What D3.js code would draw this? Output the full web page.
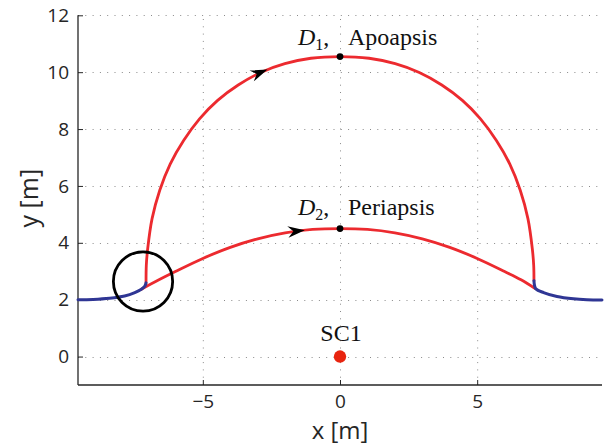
<!DOCTYPE html>
<html>
<head>
<meta charset="utf-8">
<script src="https://cdn.jsdelivr.net/npm/d3@7/dist/d3.min.js"></script>
<style>
  body { margin: 0; background: #fff; }
  svg { display: block; }
</style>
</head>
<body>
<svg id="chart" width="606" height="446"></svg>
<script>
// Axis extents and ticks
const xDomain = [-9.55, 9.55];
const yDomain = [-1, 12];
const xTicks = [-5, 0, 5];
const yTicks = [0, 2, 4, 6, 8, 10, 12];

// Approach / departure legs (blue), [x, y] in metres
const approachLeft = [
  [-9.55, 2.0], [-9.0, 2.01], [-8.4, 2.05], [-7.85, 2.13], [-7.48, 2.25],
  [-7.24, 2.37], [-7.12, 2.47], [-7.07, 2.59]
];
const departRight = [
  [7.07, 2.67], [7.09, 2.5], [7.14, 2.38], [7.42, 2.25], [7.91, 2.11],
  [8.51, 2.03], [9.0, 2.0], [9.55, 1.99]
];

// D1 transfer arc through apoapsis (red)
const arcD1 = [
  [-7.07, 2.59], [-7.06, 3.21], [-7.01, 3.79], [-6.85, 4.85], [-6.57, 5.85],
  [-6.19, 6.77], [-5.70, 7.60], [-5.12, 8.36], [-4.46, 9.01], [-3.71, 9.55],
  [-2.89, 9.99], [-2.01, 10.30], [-1.06, 10.49],
  [0, 10.55],
  [1.06, 10.49], [2.01, 10.30], [2.89, 9.99], [3.71, 9.55], [4.46, 9.01],
  [5.12, 8.36], [5.70, 7.60], [6.19, 6.77], [6.57, 5.85], [6.85, 4.85],
  [7.01, 3.79], [7.06, 3.21], [7.07, 2.67]
];

// D2 transfer arc through periapsis (red)
const arcD2 = [
  [-7.24, 2.37], [-6.6, 2.7], [-6.0, 2.99], [-5.0, 3.45], [-4.0, 3.84],
  [-3.0, 4.14], [-2.0, 4.35], [-1.0, 4.47], [0, 4.5], [1.0, 4.47],
  [2.0, 4.35], [3.0, 4.14], [4.0, 3.84], [5.0, 3.45], [6.0, 2.99],
  [6.6, 2.7], [7.1, 2.4]
];

// Marked points
const apoapsis = [0, 10.55];
const periapsis = [0, 4.5];
const sc1 = [0, 0];
// Arrow tips along each arc
const arrowD1 = [-2.63, 10.05];
const arrowD2 = [-1.28, 4.48];
// Highlighted split point
const splitCenter = [-7.18, 2.64];
const splitRadius = 1.08;

const svg = d3.select("#chart");
const margin = { left: 78, right: 4, top: 15.3, bottom: 61 };
const W = 606, H = 446;

const x = d3.scaleLinear().domain(xDomain).range([margin.left, W - margin.right]);
const y = d3.scaleLinear().domain(yDomain).range([H - margin.bottom, margin.top]);

const RED = "#ec2a2f";
const BLUE = "#2f3694";
const AXIS = "#262626";

// Dotted grid
const grid = svg.append("g").attr("stroke", "#8a8a8a").attr("stroke-width", 1)
  .attr("stroke-dasharray", "1,6.3").attr("fill", "none");
grid.selectAll(".gx").data(xTicks).join("line")
  .attr("x1", d => x(d) + 0.5).attr("x2", d => x(d) + 0.5)
  .attr("y1", y(yDomain[0])).attr("y2", y(yDomain[1]));
grid.selectAll(".gy").data(yTicks).join("line")
  .attr("y1", d => Math.round(y(d)) + 0.5).attr("y2", d => Math.round(y(d)) + 0.5)
  .attr("x1", x(xDomain[0])).attr("x2", x(xDomain[1]));

// Axes (ticks pointing inward)
const xAxis = d3.axisBottom(x).tickValues(xTicks).tickSize(-5).tickPadding(10)
  .tickFormat(d => d < 0 ? "\u2212" + Math.abs(d) : d);
const yAxis = d3.axisLeft(y).tickValues(yTicks).tickSize(-5).tickPadding(9);

const gx = svg.append("g").attr("transform", `translate(0,${y(yDomain[0])})`).call(xAxis);
const gy = svg.append("g").attr("transform", `translate(${x(xDomain[0])},0)`).call(yAxis);
[gx, gy].forEach(g => {
  g.select(".domain").attr("stroke", AXIS).attr("stroke-width", 1.3);
  g.selectAll(".tick line").attr("stroke", AXIS);
  g.selectAll(".tick text").attr("fill", AXIS)
    .style("font-family", "'Open Sans', sans-serif").style("font-size", "19px");
});
gx.select(".domain").attr("d", `M${x(xDomain[0])},0H${x(xDomain[1])}`);
gy.select(".domain").attr("d", `M0,${y(yDomain[0])}V${y(yDomain[1])}`);

// Axis titles
svg.append("text")
  .attr("x", x(0)).attr("y", 439)
  .attr("text-anchor", "middle").attr("fill", AXIS)
  .style("font-family", "'Open Sans', sans-serif").style("font-size", "24px")
  .text("x [m]");
svg.append("text")
  .attr("transform", `translate(38,${(y(yDomain[0]) + y(yDomain[1])) / 2 - 2}) rotate(-90)`)
  .attr("text-anchor", "middle").attr("fill", AXIS)
  .style("font-family", "'Open Sans', sans-serif").style("font-size", "25px")
  .text("y [m]");

// Trajectories
const line = d3.line().x(d => x(d[0])).y(d => y(d[1])).curve(d3.curveCatmullRom.alpha(0.5));
const paths = svg.append("g").attr("fill", "none").attr("stroke-linecap", "round");

const pD1 = paths.append("path").datum(arcD1).attr("d", line)
  .attr("stroke", RED).attr("stroke-width", 2.8);
const pD2 = paths.append("path").datum(arcD2).attr("d", line)
  .attr("stroke", RED).attr("stroke-width", 2.8);
paths.append("path").datum(approachLeft).attr("d", line)
  .attr("stroke", BLUE).attr("stroke-width", 3);
paths.append("path").datum(departRight).attr("d", line)
  .attr("stroke", BLUE).attr("stroke-width", 3);

// Direction arrows, oriented along the path tangent
function arrowOn(pathSel, tip) {
  const node = pathSel.node();
  const total = node.getTotalLength();
  const tx = x(tip[0]), ty = y(tip[1]);
  let best = 0, bestD = Infinity;
  for (let s = 0; s <= total; s += 0.5) {
    const p = node.getPointAtLength(s);
    const d = (p.x - tx) ** 2 + (p.y - ty) ** 2;
    if (d < bestD) { bestD = d; best = s; }
  }
  const p0 = node.getPointAtLength(Math.max(0, best - 3));
  const p1 = node.getPointAtLength(Math.min(total, best + 3));
  const p = node.getPointAtLength(best);
  const ang = Math.atan2(p1.y - p0.y, p1.x - p0.x) * 180 / Math.PI;
  svg.append("path")
    .attr("d", "M0,0 L-17,-5.8 L-11.5,0 L-17,5.8 Z")
    .attr("fill", "#000")
    .attr("transform", `translate(${p.x},${p.y}) rotate(${ang})`);
}
arrowOn(pD1, arrowD1);
arrowOn(pD2, arrowD2);

// Split-point highlight
svg.append("circle")
  .attr("cx", x(splitCenter[0])).attr("cy", y(splitCenter[1]))
  .attr("r", x(splitRadius) - x(0))
  .attr("fill", "none").attr("stroke", "#000").attr("stroke-width", 2.8);

// Apsis markers
svg.selectAll(".apsis").data([apoapsis, periapsis]).join("circle")
  .attr("cx", d => x(d[0])).attr("cy", d => y(d[1])).attr("r", 3.4).attr("fill", "#000");

// SC1 position
svg.append("circle").attr("cx", x(sc1[0])).attr("cy", y(sc1[1])).attr("r", 6.2).attr("fill", "#e8240f");

// Annotations
const serif = "'Liberation Serif', 'Times New Roman', serif";
function apsisLabel(pt, sub, name, lift) {
  const t = svg.append("text")
    .attr("x", x(pt[0]) - 42).attr("y", y(pt[1]) - lift)
    .attr("fill", "#111").style("font-family", serif).style("font-size", "24px");
  t.append("tspan").style("font-style", "italic").text("D");
  t.append("tspan").attr("dy", 5).style("font-size", "16px").text(sub);
  t.append("tspan").attr("dy", -5).text(",");
  t.append("tspan").attr("x", x(pt[0]) + 8).text(name);
}
apsisLabel(apoapsis, "1", "Apoapsis", 11.5);
apsisLabel(periapsis, "2", "Periapsis", 13.5);

svg.append("text")
  .attr("x", x(sc1[0]) + 1).attr("y", y(sc1[1]) - 16)
  .attr("text-anchor", "middle").attr("fill", "#111")
  .style("font-family", serif).style("font-size", "24px")
  .text("SC1");
</script>
</body>
</html>
